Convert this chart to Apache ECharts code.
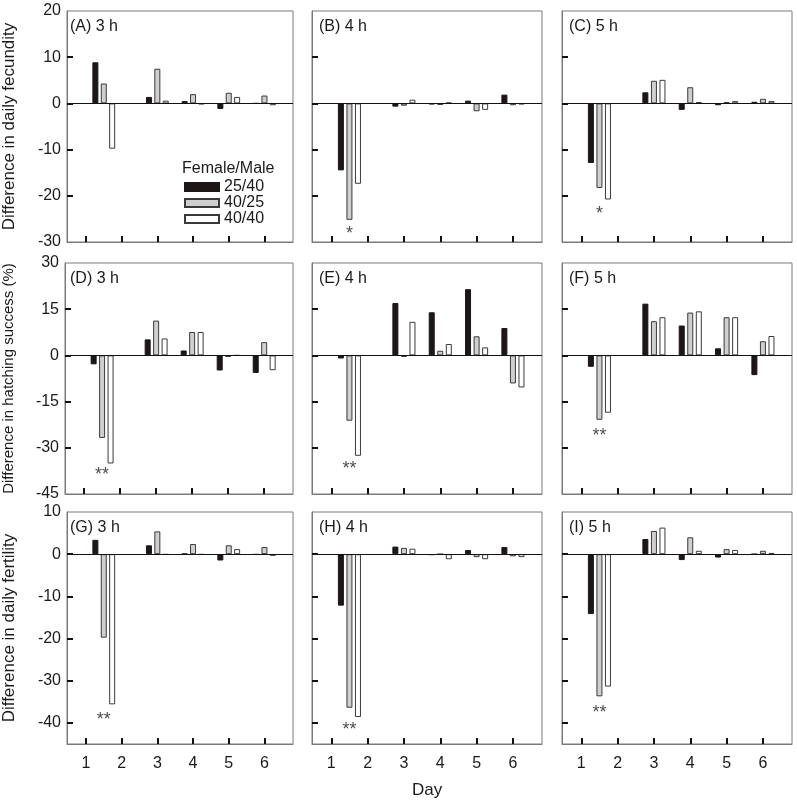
<!DOCTYPE html>
<html><head><meta charset="utf-8">
<script src="https://cdn.jsdelivr.net/npm/echarts@6/dist/echarts.min.js"></script>
<style>html,body{margin:0;padding:0;background:#fff}#c{width:797px;height:805px}</style>
</head><body><div id="c"></div>
<script>
// ---- data ----
const dayTicks = [1, 2, 3, 4, 5, 6];
const groupX = [1.5, 3, 4, 5, 6];
const seriesNames = ['25/40', '40/25', '40/40'];
const panelLabels = ['(A) 3 h','(B) 4 h','(C) 5 h','(D) 3 h','(E) 4 h','(F) 5 h','(G) 3 h','(H) 4 h','(I) 5 h'];
const rowTitles = ['Difference in daily fecundity','Difference in hatching success (%)','Difference in daily fertility'];
const yTicksRow1 = [-30, -20, -10, 0, 10, 20];
const yTicksRow2 = [-45, -30, -15, 0, 15, 30];
const yTicksRow3 = [-40, -30, -20, -10, 0, 10];
const yMinRows = [-30, -45, -45];
const yMaxRows = [20, 30, 10];

const A_2540 = [8.9, 1.4, 0.5, -1.2, 0];
const A_4025 = [4.3, 7.5, 2.0, 2.3, 1.7];
const A_4040 = [-9.8, 0.6, -0.2, 1.4, -0.4];
const B_2540 = [-14.5, -0.7, -0.2, 0.6, 1.9];
const B_4025 = [-25.2, -0.5, -0.35, -1.7, -0.4];
const B_4040 = [-17.4, 0.8, 0.2, -1.4, -0.2];
const C_2540 = [-12.9, 2.4, -1.4, -0.4, 0.35];
const C_4025 = [-18.3, 4.9, 3.5, 0.3, 1.0];
const C_4040 = [-20.8, 5.1, 0.3, 0.5, 0.5];
const D_2540 = [-2.9, 5.2, 1.6, -4.9, -5.7];
const D_4025 = [-26.8, 11.3, 7.6, -0.5, 4.3];
const D_4040 = [-35.1, 5.5, 7.6, 0, -4.8];
const E_2540 = [-1.0, 17.0, 14.0, 21.5, 8.9];
const E_4025 = [-21.2, -0.5, 1.5, 6.2, -9.1];
const E_4040 = [-32.6, 10.9, 3.7, 2.6, -10.4];
const F_2540 = [-3.7, 16.8, 9.7, 2.3, -6.4];
const F_4025 = [-20.9, 11.1, 13.9, 12.4, 4.6];
const F_4040 = [-18.6, 12.4, 14.3, 12.4, 6.3];
const G_2540 = [3.4, 2.1, 0.1, -1.5, -0.1];
const G_4025 = [-19.8, 5.4, 2.4, 2.1, 1.7];
const G_4040 = [-35.6, -0.1, -0.1, 1.2, -0.4];
const H_2540 = [-12.2, 1.8, -0.2, 1.0, 1.7];
const H_4025 = [-36.4, 1.5, 0, -0.7, -0.5];
const H_4040 = [-38.6, 1.3, -1.2, -1.2, -0.7];
const I_2540 = [-14.2, 3.6, -1.4, -0.8, 0];
const I_4025 = [-33.7, 5.5, 4.0, 1.2, 0.8];
const I_4040 = [-31.4, 6.3, 0.8, 1.0, 0.3];

const sigText = ['', '*', '*', '**', '**', '**', '**', '**', '**'];
const sigY = [0, -28.2, -23.9, -39.0, -37.0, -26.3, -39.2, -41.8, -37.6];

// ---- layout ----
const panels = [
  [A_2540, A_4025, A_4040], [B_2540, B_4025, B_4040], [C_2540, C_4025, C_4040],
  [D_2540, D_4025, D_4040], [E_2540, E_4025, E_4040], [F_2540, F_4025, F_4040],
  [G_2540, G_4025, G_4040], [H_2540, H_4025, H_4040], [I_2540, I_4025, I_4040]
];
const yTicksRows = [yTicksRow1, yTicksRow2, yTicksRow3];
const colLeft = [63, 312, 562];
const rowTop = [11, 263, 512];
const gw = 230, gh = 231;
const offsets = [-0.235, 0, 0.235];
const styles = [
  {color: '#1c1616', borderColor: '#1c1616', borderWidth: 1},
  {color: '#cfcfcf', borderColor: '#3a3a3a', borderWidth: 1},
  {color: '#ffffff', borderColor: '#3a3a3a', borderWidth: 1}
];
const FONT = 'Liberation Sans, Arial, sans-serif';
const txt = '#1a1a1a';

const grid = [], xAxis = [], yAxis = [], series = [], title = [];
for (let p = 0; p < 9; p++) {
  const r = Math.floor(p / 3), c = p % 3;
  grid.push({left: colLeft[c], top: rowTop[r], width: gw, height: gh + (r === 2 ? 1 : 0),
    show: true, borderColor: '#7a7a7a', borderWidth: 1, backgroundColor: 'transparent'});
  xAxis.push({type: 'value', gridIndex: p, min: 0.47, max: 6.8,
    axisLine: {show: true, onZero: false, lineStyle: {color: '#7a7a7a', width: 1}},
    axisTick: {show: true, inside: true, length: 6, customValues: dayTicks, lineStyle: {color: '#111', width: 2}},
    axisLabel: {show: r === 2, customValues: dayTicks, fontSize: 16, color: txt, fontFamily: FONT, margin: 12},
    splitLine: {show: false}});
  const yt = yTicksRows[r];
  yAxis.push({type: 'value', gridIndex: p, min: yMinRows[r], max: yMaxRows[r],
    name: c === 0 ? rowTitles[r] : '', nameLocation: 'middle', nameGap: c === 0 ? 49 : 0,
    nameTextStyle: {fontSize: r === 1 ? 15 : 17, color: txt, fontFamily: FONT},
    axisLine: {show: true, onZero: false, lineStyle: {color: '#7a7a7a', width: 1}},
    axisTick: {show: true, inside: true, length: 6, customValues: yt.filter(v => v > yMinRows[r] && v < yMaxRows[r]), lineStyle: {color: '#111', width: 2}},
    axisLabel: {show: c === 0, customValues: yt, fontSize: 16, color: txt, fontFamily: FONT, margin: 6},
    splitLine: {show: false}});
  title.push({text: panelLabels[p], left: colLeft[c] + 2, top: rowTop[r] + 3,
    textStyle: {fontSize: 16, fontWeight: 'normal', color: txt, fontFamily: FONT}});
  for (let k = 0; k < 3; k++) {
    const s = {
      type: 'bar', name: seriesNames[k], xAxisIndex: p, yAxisIndex: p,
      barWidth: 6, barGap: '-100%', itemStyle: styles[k], silent: true, animation: false,
      data: panels[p][k].map((v, i) => [groupX[i] + offsets[k], v])
    };
    if (k === 0) {
      s.markLine = {silent: true, symbol: ['none', 'none'], label: {show: false},
        lineStyle: {color: '#111', width: 1, type: 'solid'}, data: [{yAxis: 0}], animation: false};
    }
    series.push(s);
  }
  if (sigText[p]) {
    series.push({type: 'scatter', xAxisIndex: p, yAxisIndex: p, symbolSize: 1,
      itemStyle: {color: 'transparent'}, silent: true, animation: false,
      label: {show: true, position: 'inside', formatter: sigText[p], fontSize: 18, color: txt, fontFamily: FONT},
      data: [[groupX[0], sigY[p]]]});
  }
}

const chart = echarts.init(document.getElementById('c'), null, {renderer: 'canvas'});
chart.setOption({
  animation: false,
  backgroundColor: '#fff',
  title, grid, xAxis, yAxis, series,
  legend: {
    data: seriesNames, orient: 'vertical', left: 184, top: 179, padding: 0, itemWidth: 34, itemHeight: 8, itemGap: 0,
    icon: 'rect', textStyle: {fontSize: 16, lineHeight: 16, color: txt, fontFamily: FONT}, selectedMode: false
  },
  graphic: [
    {type: 'text', left: 182, top: 161, style: {text: 'Female/Male', font: '16px ' + FONT, fill: txt}},
    {type: 'text', left: 412, top: 782, style: {text: 'Day', font: '17px ' + FONT, fill: txt}}
  ]
});
</script>
</body></html>
